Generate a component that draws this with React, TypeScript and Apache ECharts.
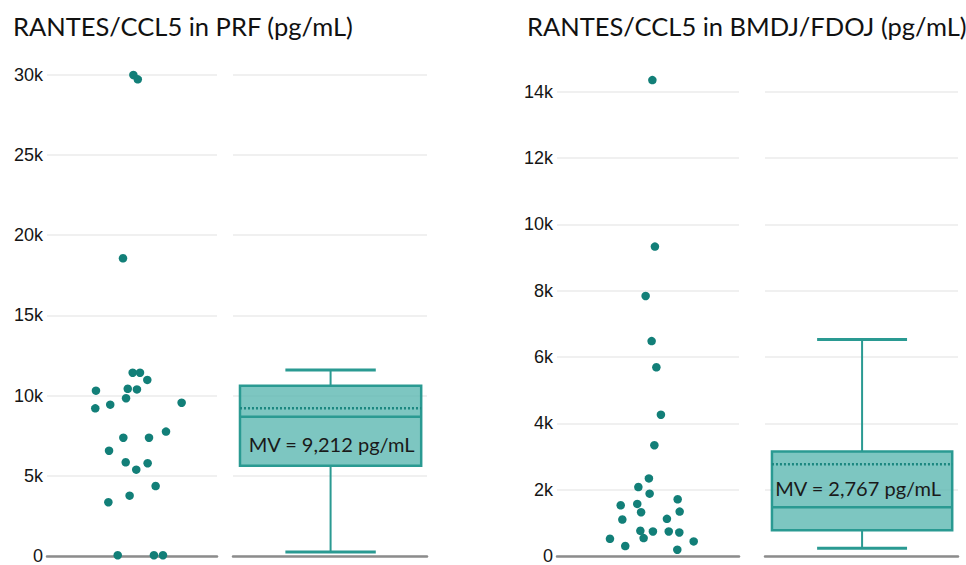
import React, { useEffect, useRef } from "react";
import * as echarts from "echarts";

// ---- Data ----
const leftTitle = "RANTES/CCL5 in PRF (pg/mL)";
const rightTitle = "RANTES/CCL5 in BMDJ/FDOJ (pg/mL)";

// PRF individual values (pg/mL) and horizontal jitter (0..1 within the strip)
const prfValues = [
  10300, 9200, 9430, 9830, 10420, 11420, 11420, 10380, 10970, 9550,
  7370, 7370, 7750, 6560, 5840, 5380, 5780, 4360, 3760, 3350,
  50, 50, 50, 29970, 29700, 18550,
];
const prfJitter = [
  0.288, 0.284, 0.372, 0.465, 0.475, 0.504, 0.547, 0.529, 0.59, 0.792,
  0.449, 0.6, 0.7, 0.365, 0.463, 0.525, 0.592, 0.639, 0.486, 0.361,
  0.416, 0.629, 0.682, 0.508, 0.534, 0.447,
];

// BMDJ/FDOJ individual values (pg/mL) and jitter
const bmdjValues = [
  14350, 9330, 7840, 6480, 5690, 4260, 3340, 2340, 2080, 1880,
  1530, 1570, 1710, 1320, 1340, 1100, 1120, 760, 740, 740,
  710, 540, 520, 440, 300, 190,
];
const bmdjJitter = [
  0.524, 0.538, 0.487, 0.52, 0.546, 0.571, 0.535, 0.505, 0.447, 0.509,
  0.35, 0.441, 0.663, 0.462, 0.674, 0.359, 0.604, 0.458, 0.527, 0.614,
  0.672, 0.476, 0.291, 0.751, 0.375, 0.661,
];

// Box stats: [min, Q1, median, Q3, max, mean]
const prfBox = [250, 5630, 8680, 10610, 11590, 9212];
const bmdjBox = [230, 780, 1470, 3150, 6530, 2767];
const prfLabel = "MV = 9,212 pg/mL";
const bmdjLabel = "MV = 2,767 pg/mL";

// Axis settings
const prfAxis = { min: 0, max: 30000, interval: 5000 };
const bmdjAxis = { min: 0, max: 14000, interval: 2000 };

const DOT = "#127f78";
const BOX_FILL = "rgba(88,182,176,0.78)";
const BOX_LINE = "#2a9a92";
const GRID_LINE = "#f0f0f0";
const AXIS_LINE = "#8c8c8c";

function kFormatter(v: number) {
  return v === 0 ? "0" : v / 1000 + "k";
}

function makeBoxRender(label: string, mode: "lower" | "upper") {
  return (params: any, api: any) => {
    const c = 0.503;
    const hw = 0.467;
    const cap = 0.233;
    const min = api.value(0);
    const q1 = api.value(1);
    const med = api.value(2);
    const q3 = api.value(3);
    const max = api.value(4);
    const mean = api.value(5);
    const p = (x: number, y: number) => api.coord([x, y]);
    const [x0, yQ3] = p(c - hw, q3);
    const [x1, yQ1] = p(c + hw, q1);
    const [cx, yMed] = p(c, med);
    const yMin = p(c, min)[1];
    const yMax = p(c, max)[1];
    const yMean = p(c, mean)[1];
    const [cl] = p(c - cap, 0);
    const [cr] = p(c + cap, 0);
    const labelY = mode === "lower" ? (yMed + yQ1) / 2 + 3 : (yMean + yMed) / 2 + 2;
    const labelX = mode === "lower" ? cx + 1 : cx - 4;
    const lw = 2.5;
    return {
      type: "group",
      children: [
        { type: "line", shape: { x1: cx, y1: yQ3, x2: cx, y2: yMax }, style: { stroke: BOX_LINE, lineWidth: 2 } },
        { type: "line", shape: { x1: cx, y1: yQ1, x2: cx, y2: yMin }, style: { stroke: BOX_LINE, lineWidth: 2 } },
        { type: "line", shape: { x1: cl, y1: yMax, x2: cr, y2: yMax }, style: { stroke: BOX_LINE, lineWidth: 3 } },
        { type: "line", shape: { x1: cl, y1: yMin, x2: cr, y2: yMin }, style: { stroke: BOX_LINE, lineWidth: 3 } },
        {
          type: "rect",
          shape: { x: x0, y: yQ3, width: x1 - x0, height: yQ1 - yQ3 },
          style: { fill: BOX_FILL, stroke: BOX_LINE, lineWidth: lw },
        },
        { type: "line", shape: { x1: x0, y1: yMed, x2: x1, y2: yMed }, style: { stroke: BOX_LINE, lineWidth: lw } },
        {
          type: "line",
          shape: { x1: x0, y1: yMean, x2: x1, y2: yMean },
          style: { stroke: "#1c8780", lineWidth: 2.5, lineDash: [2, 2] },
        },
        {
          type: "text",
          x: labelX,
          y: labelY,
          style: {
            text: label,
            fill: "#1a1a1a",
            fontSize: 20,
            fontFamily: "Lato",
            align: "center",
            verticalAlign: "middle",
          },
        },
      ],
    };
  };
}

export default function App() {
  const ref = useRef<HTMLDivElement>(null);
  useEffect(() => {
    document.body.style.margin = "0";
    if (!ref.current) return;
    const chart = echarts.init(ref.current, undefined, { renderer: "svg" });

    const yBase = (ax: any, showLabel: boolean) => ({
      type: "value",
      min: ax.min,
      max: ax.max,
      interval: ax.interval,
      axisLine: { show: false },
      axisTick: { show: false },
      axisLabel: {
        show: showLabel,
        formatter: kFormatter,
        fontSize: 18,
        color: "#151515",
        fontFamily: "Liberation Sans",
        margin: 4,
      },
      splitLine: { show: true, lineStyle: { color: GRID_LINE, width: 2 } },
    });
    const xBase = () => ({
      type: "value",
      min: 0,
      max: 1,
      axisLine: { show: true, onZero: false, lineStyle: { color: AXIS_LINE, width: 2.5 } },
      axisTick: { show: false },
      axisLabel: { show: false },
      splitLine: { show: false },
    });

    const titleStyle = { fontFamily: "Lato", fontSize: 25.5, fontWeight: "normal", color: "#111" };

    const option: any = {
      animation: false,
      backgroundColor: "#ffffff",
      title: [
        { text: leftTitle, left: 13, top: 13, padding: 0, textStyle: titleStyle },
        { text: rightTitle, left: 527, top: 13, padding: 0, textStyle: titleStyle },
      ],
      grid: [
        { left: 47, width: 170, top: 74.5, height: 481.5 },
        { left: 233, width: 194, top: 74.5, height: 481.5 },
        { left: 557, width: 182, top: 91.7, height: 464.3 },
        { left: 765, width: 193, top: 91.7, height: 464.3 },
      ],
      xAxis: [
        { ...xBase(), gridIndex: 0 },
        { ...xBase(), gridIndex: 1 },
        { ...xBase(), gridIndex: 2 },
        { ...xBase(), gridIndex: 3 },
      ],
      yAxis: [
        { ...yBase(prfAxis, true), gridIndex: 0 },
        { ...yBase(prfAxis, false), gridIndex: 1 },
        { ...yBase(bmdjAxis, true), gridIndex: 2 },
        { ...yBase(bmdjAxis, false), gridIndex: 3 },
      ],
      series: [
        {
          type: "scatter",
          xAxisIndex: 0,
          yAxisIndex: 0,
          symbolSize: 8.5,
          clip: false,
          itemStyle: { color: DOT, opacity: 1 },
          data: prfValues.map((v, i) => [prfJitter[i], v]),
          z: 5,
        },
        {
          type: "scatter",
          xAxisIndex: 2,
          yAxisIndex: 2,
          symbolSize: 8.5,
          clip: false,
          itemStyle: { color: DOT, opacity: 1 },
          data: bmdjValues.map((v, i) => [bmdjJitter[i], v]),
          z: 5,
        },
        {
          type: "custom",
          xAxisIndex: 1,
          yAxisIndex: 1,
          clip: false,
          renderItem: makeBoxRender(prfLabel, "lower"),
          data: [prfBox],
          encode: { x: -1, y: [0, 1, 2, 3, 4] },
          z: 5,
        },
        {
          type: "custom",
          xAxisIndex: 3,
          yAxisIndex: 3,
          clip: false,
          renderItem: makeBoxRender(bmdjLabel, "upper"),
          data: [bmdjBox],
          encode: { x: -1, y: [0, 1, 2, 3, 4] },
          z: 5,
        },
      ],
    };
    chart.setOption(option);
    return () => chart.dispose();
  }, []);
  return <div ref={ref} style={{ width: 966, height: 565 }} />;
}
